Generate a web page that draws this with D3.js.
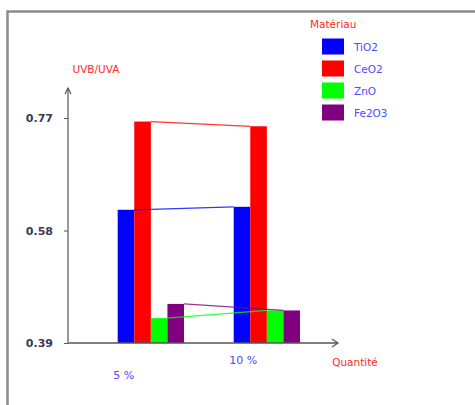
<!DOCTYPE html>
<html><head><meta charset="utf-8">
<script src="https://cdn.jsdelivr.net/npm/d3@7"></script>
<style>html,body{margin:0;background:#fff;overflow:hidden}svg{display:block}</style>
</head><body>
<script>
const categories = ["5 %", "10 %"];
const seriesNames = ["TiO2", "CeO2", "ZnO", "Fe2O3"];
const TiO2 = [0.615, 0.620];
const CeO2 = [0.764, 0.756];
const ZnO = [0.432, 0.445];
const Fe2O3 = [0.456, 0.445];
const tickValues = [0.39, 0.58, 0.77];
const colors = ["#0000ff", "#ff0000", "#00ff00", "#800080"];

const seriesValues = [TiO2, CeO2, ZnO, Fe2O3];
const W = 475, H = 405;
const svg = d3.select("body").append("svg").attr("width", W).attr("height", H);
const font = "DejaVu Sans, Verdana, sans-serif";

// frame (top and left edges visible)
svg.append("path").attr("d", `M7.5,${H} L7.5,11.5 L${W},11.5`)
  .attr("fill", "none").attr("stroke", "#8a8a8a").attr("stroke-width", 2.5);

const y = d3.scaleLinear().domain([0.39, 0.77]).range([343, 118]);
const x0 = d3.scaleBand().domain(categories).range([117.7, 300]).paddingInner(0.4284).paddingOuter(0);
const x1 = d3.scaleBand().domain(seriesNames).range([0, x0.bandwidth()]);

const axX = 68, axY = y(0.39);

// bars
seriesNames.forEach((s, si) => {
  svg.append("g").selectAll("rect").data(categories).join("rect")
    .attr("x", c => x0(c) + x1(s))
    .attr("y", (c, i) => y(seriesValues[si][i]))
    .attr("width", x1.bandwidth())
    .attr("height", (c, i) => axY - y(seriesValues[si][i]))
    .attr("fill", colors[si]);
});
// connecting lines
seriesNames.forEach((s, si) => {
  const pts = [
    [x0(categories[0]) + x1(s) + x1.bandwidth(), y(seriesValues[si][0])],
    [x0(categories[1]) + x1(s), y(seriesValues[si][1])]
  ];
  svg.append("path").attr("d", d3.line()(pts)).attr("fill", "none")
    .attr("stroke", colors[si]).attr("stroke-width", 1.2).attr("opacity", 0.8);
});

// axes
const axG = svg.append("g").attr("transform", `translate(${axX},0)`)
  .call(d3.axisLeft(y).tickValues(tickValues).tickSize(4).tickPadding(11).tickFormat(d3.format(".2f")));
axG.select(".domain").remove();
axG.selectAll(".tick line").attr("stroke", "#555");
axG.selectAll(".tick text").attr("font-family", font).attr("font-size", 11)
  .attr("font-weight", "bold").attr("fill", "#3a3a55");

const axisColor = "#555";
svg.append("line").attr("x1", axX).attr("x2", axX).attr("y1", 88).attr("y2", axY).attr("stroke", axisColor).attr("stroke-width", 1.2);
svg.append("line").attr("x1", axX).attr("x2", 338).attr("y1", axY).attr("y2", axY).attr("stroke", axisColor).attr("stroke-width", 1.5);
svg.append("path").attr("d", `M${axX-3},${94} L${axX},${88} L${axX+3},${94}`).attr("fill", "none").attr("stroke", axisColor).attr("stroke-width", 1.2);
svg.append("path").attr("d", `M332,${axY-4} L338,${axY} L332,${axY+4}`).attr("fill", "none").attr("stroke", axisColor).attr("stroke-width", 1.2);

// category labels (staggered)
svg.append("g").selectAll("text").data(categories).join("text")
  .attr("x", c => x0(c) - 4.5)
  .attr("y", (c, i) => i % 2 === 0 ? 379 : 364)
  .attr("font-family", font).attr("font-size", 11).attr("fill", "#4a4aff")
  .text(c => c);

// axis titles
svg.append("text").attr("x", 96).attr("y", 73).attr("text-anchor", "middle")
  .attr("font-family", font).attr("font-size", 10.5).attr("fill", "#ff2a2a").text("UVB/UVA");
svg.append("text").attr("x", 355).attr("y", 366).attr("text-anchor", "middle")
  .attr("font-family", font).attr("font-size", 10.5).attr("fill", "#ff2a2a").text("Quantité");

// legend
svg.append("text").attr("x", 310).attr("y", 28)
  .attr("font-family", font).attr("font-size", 10.5).attr("fill", "#ff2a2a").text("Matériau");
const lg = svg.append("g").selectAll("g").data(seriesNames).join("g")
  .attr("transform", (d, i) => `translate(322,${38.5 + i * 22})`);
lg.append("rect").attr("width", 22).attr("height", 16).attr("fill", (d, i) => colors[i]);
lg.append("text").attr("x", 32).attr("y", 12.5)
  .attr("font-family", font).attr("font-size", 10.5).attr("fill", "#4a4aff").text(d => d);
</script>
</body></html>
